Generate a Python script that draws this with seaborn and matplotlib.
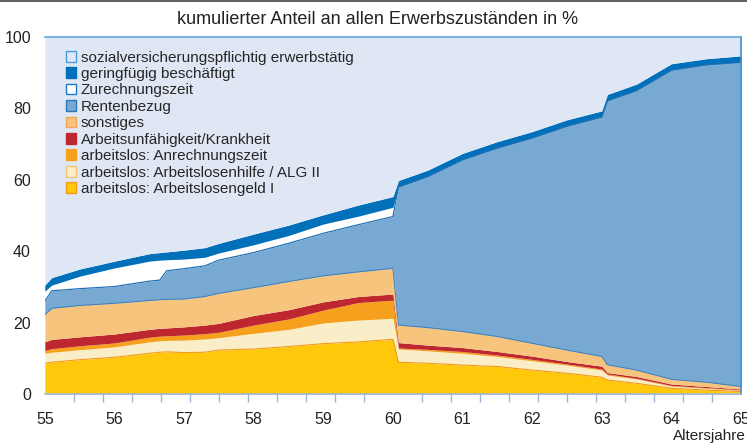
import numpy as np
import pandas as pd
import seaborn as sn
import matplotlib.pyplot as plt
from matplotlib.patches import Patch
from matplotlib.lines import Line2D

# Altersjahre (sampled along the curves)
alter = [55.0, 55.1, 55.5, 56.0, 56.5, 56.65, 56.75, 57.0, 57.3, 57.5, 58.0, 58.5,
         59.0, 59.5, 60.0, 60.08, 60.5, 61.0, 61.5, 62.0, 62.5, 63.0, 63.08, 63.5,
         64.0, 64.5, 65.0]

# shares in % (bottom -> top)
alg1 = [8.6, 8.9, 9.6, 10.3, 11.4, 11.7, 11.8, 11.6, 11.7, 12.3, 12.6, 13.3,
        14.1, 14.6, 15.3, 8.9, 8.6, 8.1, 7.7, 6.7, 5.8, 4.7, 3.9, 3.0, 1.6, 1.1, 0.7]
alg2 = [2.8, 2.8, 2.8, 2.9, 3.2, 3.2, 3.2, 3.5, 3.7, 3.5, 4.4, 4.8,
        5.8, 6.1, 5.9, 3.7, 3.5, 3.3, 2.8, 2.6, 2.3, 2.0, 1.4, 1.2, 0.6, 0.5, 0.3]
anrechnung = [0.8, 1.0, 1.1, 1.1, 1.3, 1.3, 1.3, 1.4, 1.5, 1.5, 2.3, 2.9,
              3.6, 4.9, 5.1, 0.3, 0.4, 0.5, 0.4, 0.4, 0.3, 0.3, 0.3, 0.2, 0.2, 0.2, 0.2]
krank = [2.4, 2.6, 2.5, 2.5, 2.2, 2.2, 2.2, 2.3, 2.4, 2.5, 2.7, 2.6,
         2.3, 1.7, 1.7, 1.5, 1.2, 1.1, 1.0, 0.9, 0.7, 0.8, 0.4, 0.5, 0.4, 0.3, 0.2]
sonstiges = [7.6, 8.7, 8.8, 8.6, 8.1, 8.0, 8.0, 7.8, 8.0, 8.4, 7.8, 7.9,
             7.3, 6.9, 7.2, 4.9, 4.9, 4.5, 4.2, 3.6, 3.2, 2.7, 2.2, 1.8, 1.3, 1.2, 0.7]
rente = [3.8, 4.9, 4.7, 4.7, 5.4, 5.5, 8.0, 8.5, 8.6, 9.3, 9.8, 10.7,
         11.9, 13.2, 14.5, 38.7, 42.3, 48.1, 52.8, 57.5, 62.7, 67.1, 73.9, 78.3, 86.6, 88.9, 90.8]
zurechnung = [2.8, 1.6, 3.5, 5.2, 5.6, 5.6, 3.1, 2.7, 2.4, 2.0, 2.2, 2.2,
              2.6, 2.4, 2.6, 0, 0, 0, 0, 0, 0, 0, 0, 0, 0, 0, 0]
geringfuegig = [1.7, 2.1, 2.0, 1.9, 2.1, 2.1, 2.2, 2.5, 2.7, 2.7, 3.0, 2.9,
                2.6, 3.1, 3.0, 1.8, 1.8, 1.8, 1.8, 1.8, 1.8, 1.7, 1.8, 1.8, 1.8, 1.7, 1.8]
svp = [69.5, 67.4, 65.0, 62.8, 60.7, 60.4, 60.2, 59.7, 59.0, 57.8, 55.2, 52.7,
       49.8, 47.1, 44.7, 40.2, 37.3, 32.6, 29.3, 26.5, 23.2, 20.7, 16.1, 13.2, 7.5, 6.1, 5.3]

labels = ['arbeitslos: Arbeitslosengeld I', 'arbeitslos: Arbeitslosenhilfe / ALG II',
          'arbeitslos: Anrechnungszeit', 'Arbeitsunfähigkeit/Krankheit', 'sonstiges',
          'Rentenbezug', 'Zurechnungszeit', 'geringfügig beschäftigt',
          'sozialversicherungspflichtig erwerbstätig']
colors = ['#FFC80A', '#FAEEC8', '#F6A01E', '#BF2730', '#F7C47E',
          '#78A9D3', '#FFFFFF', '#0070BA', '#E0E7F4']
edges = ['#F29A1B', '#F2C27A', '#F6A01E', '#BF2730', '#F2A65A',
         '#2C78B8', '#1F78C8', '#0070BA', '#4A9AD8']

sn.set_theme(style='white')
plt.rcParams['font.family'] = ['Liberation Sans', 'DejaVu Sans']

layers = [alg1, alg2, anrechnung, krank, sonstiges, rente, zurechnung, geringfuegig, svp]
df = pd.DataFrame(dict(zip(labels, layers)), index=alter)
cum = df.cumsum(axis=1)

fig = plt.figure(figsize=(7.47, 4.43), dpi=100)
ax = fig.add_axes([0.060, 0.1106, 0.932, 0.806])

ax.stackplot(df.index, [df[c] for c in labels], colors=colors, linewidth=0)

# thin outlines on top of some layers
line_df = pd.DataFrame({'Alter': alter,
                        'alg1': cum[labels[0]],
                        'sonst': cum[labels[4]],
                        'rente': cum[labels[5]]})
sn.lineplot(data=line_df, x='Alter', y='alg1', ax=ax, color='#F29A1B', lw=0.8)
sn.lineplot(data=line_df, x='Alter', y='sonst', ax=ax, color='#3F7FB5', lw=0.7)
sn.lineplot(data=line_df, x='Alter', y='rente', ax=ax, color='#1F70B5', lw=0.9)

ax.set_xlim(55, 65)
ax.set_ylim(0, 100)
ax.set_xlabel('')
ax.set_ylabel('')
ax.set_xticks(range(55, 66))
ax.set_xticks(np.arange(55, 65.01, 5 / 12), minor=True)
ax.set_yticks(range(0, 101, 20))
ax.tick_params(axis='x', which='major', length=0, pad=13, labelsize=11.5, colors='#222222')
ax.tick_params(axis='x', which='minor', length=6, width=1, color='#9DB6DC', bottom=True)
ax.tick_params(axis='y', length=0, pad=10, labelsize=11.5, colors='#222222')

ax.spines['left'].set_visible(False)
ax.spines['bottom'].set_color('#9DB6DC')
ax.spines['top'].set_color('#5DA8DC')
ax.spines['right'].set_color('#3D8FD0')
for s in ['bottom', 'top', 'right']:
    ax.spines[s].set_linewidth(1.2)

handles = [Patch(facecolor=colors[i], edgecolor=edges[i], linewidth=1) for i in range(9)][::-1]
ax.legend(handles, labels[::-1], loc='upper left', bbox_to_anchor=(0.03, 0.962),
          frameon=False, fontsize=11, handlelength=0.7, handleheight=0.7,
          handletextpad=0.3, labelspacing=0.16, borderpad=0, borderaxespad=0)

fig.text(0.505, 0.957, 'kumulierter Anteil an allen Erwerbszuständen in %',
         ha='center', va='center', fontsize=13, color='#222222')
fig.text(0.998, 0.0, 'Altersjahre', ha='right', va='bottom', fontsize=11, color='#222222')
fig.add_artist(Line2D([0, 1], [0.998, 0.998], color='#444444', lw=1.2))

fig.savefig('out.png', dpi=100)
